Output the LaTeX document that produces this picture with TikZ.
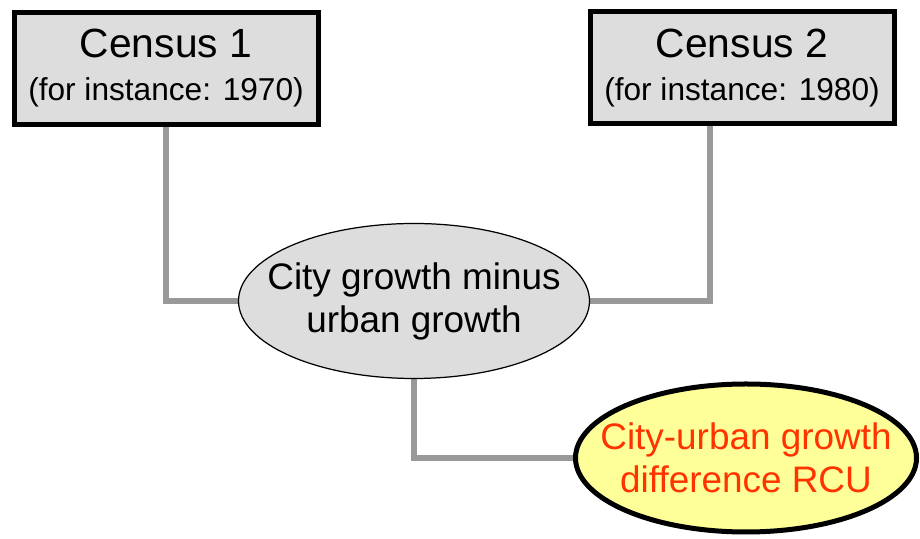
\documentclass[tikz,border=0pt]{standalone}
\usepackage{fontspec}
\setmainfont{Liberation Sans}
\usepackage{xcolor}
\usepackage{tikz}
\usetikzlibrary{shapes.geometric, backgrounds}
\definecolor{boxgray}{HTML}{DDDDDD}
\definecolor{linkgray}{HTML}{999999}
\definecolor{rcuyellow}{HTML}{FFFF99}
\definecolor{rcured}{HTML}{FF3300}

\begin{document}
\begin{tikzpicture}[
  census/.style={rectangle, draw, line width=0.1cm, fill=boxgray,
                 minimum width=6.08cm, minimum height=2.24cm, inner sep=0pt,
                 align=center, font=\fontsize{23.2}{24.5}\selectfont},
  growth/.style={ellipse, draw, line width=0.7pt, fill=boxgray,
                 minimum width=7.02cm, minimum height=3.1cm, inner sep=-1.5cm,
                 align=center, font=\fontsize{21}{24.5}\selectfont},
  result/.style={ellipse, draw, line width=0.1cm, fill=rcuyellow,
                 minimum width=6.82cm, minimum height=2.96cm, inner sep=-1.5cm,
                 align=center, text=rcured, font=\fontsize{21}{24.5}\selectfont},
  link/.style={draw=linkgray, line width=0.12cm}
]
\useasboundingbox (0,0) rectangle (18.4,10.78);

% Census boxes
\node[census] (c1) at (3.32, 9.41)
  {Census 1\\ \fontsize{18}{24.5}\selectfont (for instance: 1970)};
\node[census] (c2) at (14.84, 9.42)
  {Census 2\\ \fontsize{18}{24.5}\selectfont (for instance: 1980)};

% Difference of growth rates
\node[growth] (diff) at (8.28, 4.76) {City growth minus\\urban growth};

% Result
\node[result] (rcu) at (14.92, 1.62) {City-urban growth\\difference RCU};

% Connectors
\begin{scope}[on background layer]
\draw[link] (c1.south) |- (diff.west);
\draw[link] ([xshift=-0.64cm]c2.south) |- (diff.east);
\draw[link] (diff.south) |- (rcu.west);
\end{scope}

\end{tikzpicture}
\end{document}
